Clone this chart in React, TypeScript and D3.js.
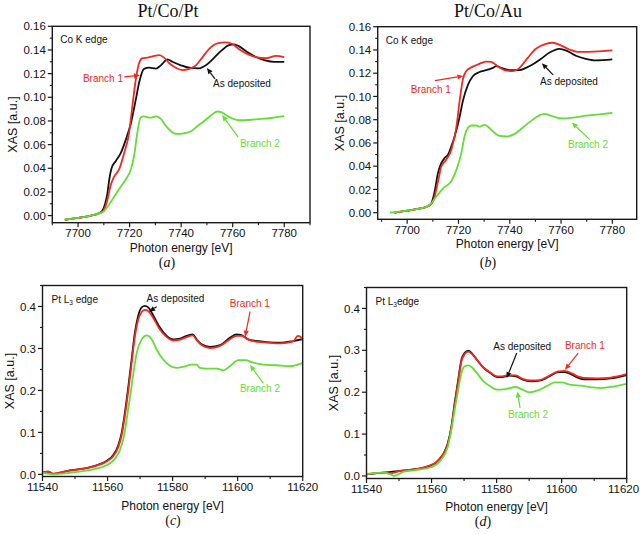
import React from 'react';
import * as d3 from 'd3';

type Pt = [number, number];

// ---------- Data ----------
// (a) Pt/Co/Pt, Co K edge
const asDepA: Pt[] = [
  [7695, -0.0035], [7700, -0.002], [7705, 0.0], [7708, 0.0018], [7709.4, 0.004], [7710.5, 0.01], [7711.4, 0.019],
  [7712, 0.029], [7713, 0.04], [7714.6, 0.046], [7716.6, 0.053], [7718.5, 0.064], [7720.5, 0.078], [7722.4, 0.098],
  [7723.7, 0.1125], [7725.6, 0.124], [7727.6, 0.125], [7730.2, 0.1242], [7732.1, 0.127], [7734.7, 0.132], [7736.6, 0.130],
  [7739.9, 0.127], [7743.1, 0.125], [7747, 0.1245], [7749.6, 0.127], [7752.2, 0.132], [7755.4, 0.139], [7758.6, 0.144],
  [7760.6, 0.1447], [7762.5, 0.143], [7765.8, 0.138], [7769, 0.134], [7772.9, 0.131], [7776.1, 0.130], [7780, 0.130],
];
const branch1A: Pt[] = [
  [7695, -0.0035], [7700, -0.002], [7705, 0.0], [7708, 0.0018], [7709.4, 0.003], [7710.5, 0.007], [7711.4, 0.0136],
  [7712.7, 0.026], [7714, 0.033], [7715.9, 0.039], [7717.9, 0.053], [7719.8, 0.07], [7721.1, 0.093], [7722.4, 0.115],
  [7723.7, 0.129], [7725, 0.133], [7726.9, 0.1335], [7728.9, 0.1345], [7731.5, 0.1357], [7733.4, 0.1335], [7735.3, 0.129],
  [7737.9, 0.125], [7740.5, 0.123], [7743.1, 0.124], [7745.7, 0.127], [7748.3, 0.134], [7750.9, 0.141], [7754.1, 0.1456],
  [7757.3, 0.1464], [7759.9, 0.145], [7762.5, 0.1407], [7765.8, 0.1365], [7769, 0.134], [7772.9, 0.133], [7776.8, 0.135],
  [7780, 0.134],
];
const branch2A: Pt[] = [
  [7694.6, -0.0034], [7700, -0.002], [7705, 0.0], [7708, 0.0017], [7710, 0.0037], [7713.3, 0.0136], [7716, 0.0226],
  [7718.5, 0.0305], [7720.5, 0.039], [7721.7, 0.05], [7723, 0.07], [7724.3, 0.083], [7725.5, 0.0838], [7728, 0.0828],
  [7730.3, 0.0838], [7732, 0.082], [7734, 0.076], [7736.5, 0.0705], [7738.5, 0.069], [7741, 0.0695], [7744, 0.0715],
  [7746.5, 0.076], [7749.6, 0.081], [7752, 0.0855], [7754.1, 0.088], [7755.5, 0.0875], [7757.3, 0.085], [7760, 0.082],
  [7762.5, 0.0806], [7766, 0.0808], [7770, 0.0815], [7775, 0.0825], [7780, 0.084],
];

// (b) Pt/Co/Au, Co K edge
const asDepB: Pt[] = [
  [7695, 0.0], [7700, 0.0017], [7703.6, 0.003], [7707.5, 0.005], [7709.4, 0.008], [7710.7, 0.018], [7712, 0.034],
  [7713.3, 0.0426], [7714.6, 0.047], [7715.9, 0.0498], [7717.2, 0.057], [7718.5, 0.0656], [7720.5, 0.083], [7721.7, 0.096],
  [7723.7, 0.11], [7725.6, 0.1174], [7728.2, 0.121], [7730.8, 0.1226], [7733.4, 0.1246], [7734.7, 0.126], [7736.6, 0.1246],
  [7739.9, 0.1226], [7743.8, 0.1226], [7746.3, 0.1246], [7748.9, 0.1275], [7752.2, 0.1324], [7755.4, 0.1376], [7759.3, 0.141],
  [7762.5, 0.139], [7765.8, 0.135], [7769.6, 0.1324], [7773.5, 0.131], [7780, 0.1318],
];
const branch1B: Pt[] = [
  [7695, 0.0], [7700, 0.0017], [7703.6, 0.003], [7707.5, 0.005], [7709.4, 0.0075], [7710.7, 0.0138], [7712, 0.0268],
  [7713.3, 0.0397], [7715.2, 0.0455], [7717.2, 0.054], [7719.2, 0.074], [7720.5, 0.097], [7721.7, 0.1145], [7723, 0.1217],
  [7725, 0.125], [7727.6, 0.1275], [7730.8, 0.13], [7732.7, 0.1298], [7735.3, 0.126], [7737.9, 0.1226], [7741.1, 0.1217],
  [7743.8, 0.1246], [7747, 0.1332], [7750.2, 0.141], [7754.1, 0.1453], [7756.7, 0.1462], [7759.9, 0.144], [7763.2, 0.1404],
  [7766.4, 0.1384], [7770.9, 0.1384], [7776.1, 0.139], [7780, 0.1396],
];
const branch2B: Pt[] = [
  [7693.3, 0.0], [7700, 0.0017], [7703.6, 0.003], [7707.5, 0.005], [7709.4, 0.008], [7711.4, 0.014], [7714, 0.021],
  [7717.2, 0.027], [7719.2, 0.037], [7721.1, 0.051], [7722.4, 0.066], [7723.7, 0.073], [7725, 0.075], [7726.9, 0.075],
  [7728.2, 0.074], [7730.2, 0.0755], [7731.5, 0.074], [7733.4, 0.07], [7736, 0.066], [7738.6, 0.0656], [7741.8, 0.0676],
  [7745, 0.073], [7748.3, 0.079], [7751.5, 0.0837], [7753.5, 0.085], [7756, 0.0835], [7759.3, 0.0814], [7761.9, 0.0812],
  [7764.5, 0.0817], [7769.6, 0.0835], [7774.8, 0.0846], [7780, 0.0858],
];

// (c) Pt/Co/Pt, Pt L3 edge
const asDepC: Pt[] = [
  [11540, 0.0056], [11541.7, 0.0064], [11543.3, 0.001], [11547.4, 0.008], [11552.5, 0.0136], [11556.6, 0.0216],
  [11559.7, 0.032], [11561.7, 0.0456], [11563.3, 0.0696], [11564.3, 0.0976], [11565.3, 0.1456], [11566.4, 0.21],
  [11567.4, 0.274], [11568.4, 0.3376], [11569.4, 0.3776], [11570.5, 0.398], [11571.5, 0.4016], [11572.5, 0.398],
  [11574.1, 0.378], [11576.1, 0.35], [11578.2, 0.33], [11580.2, 0.3216], [11582.3, 0.3236], [11584.3, 0.33],
  [11586.2, 0.3336], [11587.4, 0.3216], [11588.9, 0.31], [11591.5, 0.304], [11594.6, 0.308], [11597.6, 0.3256],
  [11599.7, 0.3336], [11601.2, 0.332], [11603.3, 0.3216], [11605.8, 0.318], [11608.9, 0.3152], [11613, 0.3136],
  [11617.1, 0.3176], [11620, 0.322],
];
const branch1C: Pt[] = [
  [11540, 0.006], [11541.7, 0.0068], [11543.3, 0.002], [11547.4, 0.008], [11552.5, 0.0136], [11556.6, 0.021],
  [11559.7, 0.031], [11561.7, 0.043], [11563.3, 0.065], [11564.3, 0.092], [11565.3, 0.138], [11566.4, 0.2],
  [11567.4, 0.265], [11568.4, 0.328], [11569.4, 0.368], [11570.5, 0.387], [11571.5, 0.392], [11572.5, 0.389],
  [11574.1, 0.372], [11576.1, 0.345], [11578.2, 0.327], [11580.2, 0.319], [11582.3, 0.321], [11584.3, 0.327],
  [11586.2, 0.331], [11587.4, 0.32], [11588.9, 0.308], [11591.5, 0.301], [11594.6, 0.306], [11597.6, 0.322],
  [11599.7, 0.33], [11601.2, 0.33], [11603.3, 0.321], [11605.8, 0.316], [11608.9, 0.314], [11613, 0.312],
  [11617.1, 0.317], [11618.5, 0.33], [11619.3, 0.328], [11620, 0.318],
];
const branch2C: Pt[] = [
  [11540, 0.004], [11543.3, 0.0], [11547.4, 0.003], [11552.5, 0.008], [11556.6, 0.0136], [11559.7, 0.0216],
  [11562.3, 0.0376], [11563.8, 0.0576], [11565, 0.0896], [11566, 0.1376], [11567.1, 0.1936], [11568.1, 0.2496],
  [11569.1, 0.2936], [11570.5, 0.3216], [11572, 0.331], [11573.6, 0.3216], [11575.1, 0.2976], [11577.1, 0.2736],
  [11579.2, 0.259], [11581.3, 0.2536], [11583.8, 0.2576], [11585.8, 0.2616], [11587.4, 0.2616], [11588.4, 0.2536],
  [11590.5, 0.252], [11593.5, 0.252], [11595.6, 0.248], [11597.6, 0.2576], [11600.2, 0.272], [11602.3, 0.272],
  [11604.8, 0.266], [11607.9, 0.2616], [11612, 0.26], [11616.1, 0.2576], [11620, 0.2656],
];

// (d) Pt/Co/Au, Pt L3 edge
const asDepD: Pt[] = [
  [11540, 0.004], [11545.2, 0.008], [11550.4, 0.012], [11555.6, 0.0168], [11558.7, 0.022], [11561.4, 0.032],
  [11563.4, 0.05], [11565, 0.078], [11566.1, 0.118], [11567.1, 0.1737], [11568.2, 0.23], [11569.2, 0.278],
  [11570.2, 0.294], [11571.3, 0.2994], [11572.3, 0.294], [11573.9, 0.278], [11576, 0.258], [11578.1, 0.246],
  [11580.1, 0.2363], [11581.7, 0.2363], [11583.8, 0.2395], [11585.9, 0.238], [11588, 0.23], [11590.6, 0.226],
  [11593.2, 0.2275], [11596.3, 0.238], [11599, 0.248], [11601, 0.248], [11603.1, 0.242], [11605.2, 0.234],
  [11606.8, 0.231], [11611, 0.231], [11615.1, 0.233], [11620, 0.241],
];
const branch1D: Pt[] = [
  [11540, 0.004], [11545.2, 0.008], [11547, 0.006], [11550.4, 0.012], [11555.6, 0.017], [11558.7, 0.023],
  [11561.4, 0.033], [11563.4, 0.05], [11565, 0.076], [11566.1, 0.115], [11567.1, 0.17], [11568.2, 0.226],
  [11569.2, 0.274], [11570.2, 0.291], [11571.3, 0.297], [11572.3, 0.292], [11573.9, 0.278], [11576, 0.259],
  [11578.1, 0.247], [11580.1, 0.238], [11581.7, 0.238], [11583.8, 0.241], [11585.9, 0.24], [11588, 0.232],
  [11590.6, 0.228], [11593.2, 0.229], [11596.3, 0.24], [11599, 0.25], [11601, 0.251], [11603.1, 0.245],
  [11605.2, 0.237], [11606.8, 0.234], [11611, 0.233], [11615.1, 0.235], [11620, 0.243],
];
const branch2D: Pt[] = [
  [11540, 0.005], [11545.2, 0.008], [11547.5, 0.004], [11548.4, 0.0], [11551.5, 0.0104], [11555.6, 0.0144],
  [11559.8, 0.0208], [11562.9, 0.038], [11565, 0.07], [11566.1, 0.11], [11567.1, 0.158], [11568.2, 0.206],
  [11569.2, 0.246], [11570.2, 0.262], [11571.3, 0.264], [11572.3, 0.26], [11573.9, 0.246], [11576, 0.226],
  [11578.1, 0.214], [11580.1, 0.206], [11582.7, 0.2076], [11585.9, 0.2124], [11588, 0.206], [11590, 0.1996],
  [11592.7, 0.2044], [11595.3, 0.214], [11597.9, 0.2236], [11600, 0.2236], [11602.6, 0.218], [11605.8, 0.2155],
  [11608.9, 0.2124], [11612, 0.21], [11616.2, 0.214], [11620, 0.22],
];

// Tick values
const coKXTicks = [7700, 7720, 7740, 7760, 7780];
const coKYTicks = [0, 0.02, 0.04, 0.06, 0.08, 0.1, 0.12, 0.14, 0.16];
const ptXTicks = [11540, 11560, 11580, 11600, 11620];
const ptYTicks = [0, 0.1, 0.2, 0.3, 0.4];

const seriesNames = ['As deposited', 'Branch 1', 'Branch 2'];

const RED = '#ee2a22';
const GREEN = '#66dc36';
const BLACK = '#111111';
const SANS = '"Liberation Sans", Arial, sans-serif';
const SERIF = '"Liberation Serif", "Times New Roman", serif';

interface Ann { label: string; color: string; text: Pt; from: Pt; to: Pt }

interface Panel {
  left: number; right: number; top: number; bottom: number;
  xDomain: [number, number]; yDomain: [number, number];
  xTicks: number[]; yTicks: number[]; xMinorStep: number; yMinorStep: number;
  yFmt: (v: number) => string;
  edge: 'co' | 'pt' | 'pt2';
  data: Pt[][];
  anns: Ann[];
  caption: string; captionX: number; captionY: number;
  xTitleDy: number; yTitleX: number;
}

const panels: Panel[] = [
  {
    left: 52.3, right: 310, top: 26.3, bottom: 222.7,
    xDomain: [7690, 7790], yDomain: [-0.006, 0.16],
    xTicks: coKXTicks, yTicks: coKYTicks, xMinorStep: 10, yMinorStep: 0.01,
    yFmt: (v) => v.toFixed(2), edge: 'co',
    data: [asDepA, branch1A, branch2A],
    anns: [
      { label: 'Branch 1', color: RED, text: [7701.9, 0.1129], from: [7717.9, 0.1172], to: [7724.0, 0.1186] },
      { label: 'As deposited', color: BLACK, text: [7752.4, 0.1087], from: [7753.1, 0.1155], to: [7750.0, 0.1248] },
      { label: 'Branch 2', color: GREEN, text: [7762.8, 0.058], from: [7762.1, 0.0664], to: [7755.9, 0.085] },
    ],
    caption: 'a', captionX: 167, captionY: 267, xTitleDy: 29, yTitleX: 12,
  },
  {
    left: 377.7, right: 636.7, top: 26.7, bottom: 219.3,
    xDomain: [7688.5, 7789.5], yDomain: [-0.0057, 0.16],
    xTicks: coKXTicks, yTicks: coKYTicks, xMinorStep: 10, yMinorStep: 0.01,
    yFmt: (v) => v.toFixed(2), edge: 'co',
    data: [asDepB, branch1B, branch2B],
    anns: [
      { label: 'Branch 1', color: RED, text: [7701.4, 0.103], from: [7710.8, 0.1136], to: [7721.9, 0.1176] },
      { label: 'As deposited', color: BLACK, text: [7751.8, 0.1099], from: [7756.9, 0.1185], to: [7752.5, 0.1286] },
      { label: 'Branch 2', color: GREEN, text: [7762.7, 0.0557], from: [7771.3, 0.0626], to: [7764.2, 0.0775] },
    ],
    caption: 'b', captionX: 488, captionY: 267, xTitleDy: 29, yTitleX: 339,
  },
  {
    left: 42.5, right: 302.7, top: 285.5, bottom: 476.5,
    xDomain: [11540, 11620], yDomain: [-0.005, 0.45],
    xTicks: ptXTicks, yTicks: ptYTicks, xMinorStep: 10, yMinorStep: 0.05,
    yFmt: (v) => v.toFixed(1), edge: 'pt',
    data: [asDepC, branch1C, branch2C],
    anns: [
      { label: 'As deposited', color: BLACK, text: [11572.0, 0.41], from: [11575.1, 0.3995], to: [11572.8, 0.3876] },
      { label: 'Branch 1', color: RED, text: [11597.6, 0.398], from: [11603.8, 0.3876], to: [11602.3, 0.328] },
      { label: 'Branch 2', color: GREEN, text: [11600.7, 0.197], from: [11607.9, 0.217], to: [11603.8, 0.2606] },
    ],
    caption: 'c', captionX: 173, captionY: 525, xTitleDy: 33, yTitleX: 9,
  },
  {
    left: 366.5, right: 626.7, top: 287.5, bottom: 478.5,
    xDomain: [11540, 11620], yDomain: [-0.006, 0.45],
    xTicks: ptXTicks, yTicks: ptYTicks, xMinorStep: 10, yMinorStep: 0.05,
    yFmt: (v) => v.toFixed(1), edge: 'pt2',
    data: [asDepD, branch1D, branch2D],
    anns: [
      { label: 'As deposited', color: BLACK, text: [11579.0, 0.3014], from: [11586.2, 0.2935], to: [11583.1, 0.2337] },
      { label: 'Branch 1', color: RED, text: [11601.0, 0.3038], from: [11605.1, 0.2935], to: [11601.0, 0.2536] },
      { label: 'Branch 2', color: GREEN, text: [11583.5, 0.1395], from: [11587.2, 0.1627], to: [11586.4, 0.2017] },
    ],
    caption: 'd', captionX: 483, captionY: 526, xTitleDy: 32, yTitleX: 333,
  },
];

const seriesColors = [BLACK, RED, GREEN];
const TICK_FONT = 11.5;

function PanelView({ p }: { p: Panel }) {
  const x = d3.scaleLinear().domain(p.xDomain).range([p.left, p.right]);
  const y = d3.scaleLinear().domain(p.yDomain).range([p.bottom, p.top]);
  const line = d3.line<Pt>().x((d) => x(d[0])).y((d) => y(d[1])).curve(d3.curveMonotoneX);

  const xMinor: number[] = [];
  for (let v = Math.ceil(p.xDomain[0] / p.xMinorStep) * p.xMinorStep; v <= p.xDomain[1] + 1e-9; v += p.xMinorStep) {
    if (!p.xTicks.some((t) => Math.abs(t - v) < 1e-6)) xMinor.push(v);
  }
  const yMinor: number[] = [];
  for (let i = Math.ceil(p.yDomain[0] / p.yMinorStep); i * p.yMinorStep <= p.yDomain[1] + 1e-9; i++) {
    const v = i * p.yMinorStep;
    if (!p.yTicks.some((t) => Math.abs(t - v) < 1e-6)) yMinor.push(v);
  }

  const cx = (p.left + p.right) / 2;
  const cy = (p.top + p.bottom) / 2;

  return (
    <g>
      {/* curves */}
      {p.data.map((s, i) => (
        <path key={seriesNames[i]} d={line(s) || ''} fill="none" stroke={seriesColors[i]} strokeWidth={1.8} strokeLinejoin="round" />
      ))}
      {/* frame */}
      <rect x={p.left} y={p.top} width={p.right - p.left} height={p.bottom - p.top} fill="none" stroke="#1a1a1a" strokeWidth={1.4} />
      {/* x ticks */}
      {p.xTicks.map((t) => {
        const half = (String(t).length * 0.556 * TICK_FONT) / 2;
        const lx = Math.min(x(t), 639.5 - half);
        return (
          <g key={'xt' + t}>
            <line x1={x(t)} x2={x(t)} y1={p.bottom} y2={p.bottom + 4.5} stroke="#1a1a1a" strokeWidth={1.2} />
            <text x={lx} y={p.bottom + 14.5} textAnchor="middle" fontSize={TICK_FONT} fontFamily={SANS} fill="#111">{t}</text>
          </g>
        );
      })}
      {xMinor.map((t) => (
        <line key={'xm' + t} x1={x(t)} x2={x(t)} y1={p.bottom} y2={p.bottom + 2.5} stroke="#1a1a1a" strokeWidth={1.1} />
      ))}
      {/* y ticks */}
      {p.yTicks.map((t) => (
        <g key={'yt' + t}>
          <line x1={p.left - 4.5} x2={p.left} y1={y(t)} y2={y(t)} stroke="#1a1a1a" strokeWidth={1.2} />
          <text x={p.left - 6.5} y={y(t)} dy="0.36em" textAnchor="end" fontSize={TICK_FONT} fontFamily={SANS} fill="#111">{p.yFmt(t)}</text>
        </g>
      ))}
      {yMinor.map((t) => (
        <line key={'ym' + t} x1={p.left - 2.5} x2={p.left} y1={y(t)} y2={y(t)} stroke="#1a1a1a" strokeWidth={1.1} />
      ))}
      {/* axis titles */}
      <text x={cx} y={p.bottom + p.xTitleDy} textAnchor="middle" fontSize={12} fontFamily={SANS} fill="#111">Photon energy [eV]</text>
      <text transform={`translate(${p.yTitleX},${cy}) rotate(-90)`} dy="0.36em" textAnchor="middle" fontSize={12.5} fontFamily={SANS} fill="#111">XAS [a.u.]</text>
      {/* edge label */}
      {p.edge === 'co' ? (
        <text x={p.left + 8} y={p.top + 17} fontSize={10} fontFamily={SANS} fill="#111">Co K edge</text>
      ) : (
        <text x={p.left + 9} y={p.top + 17} fontSize={10} fontFamily={SANS} fill="#111">
          <tspan>Pt L</tspan>
          <tspan fontSize={6.5} dy={2.5}>3</tspan>
          <tspan dy={-2.5}>{p.edge === 'pt' ? ' edge' : 'edge'}</tspan>
        </text>
      )}
      {/* annotations */}
      {p.anns.map((a) => {
        const x1 = x(a.from[0]), y1 = y(a.from[1]);
        const x2 = x(a.to[0]), y2 = y(a.to[1]);
        const ang = Math.atan2(y2 - y1, x2 - x1);
        const L = 6, W = 2.6;
        const bx = x2 - L * Math.cos(ang), by = y2 - L * Math.sin(ang);
        const pts = [
          [x2, y2],
          [bx + W * Math.sin(ang), by - W * Math.cos(ang)],
          [bx - W * Math.sin(ang), by + W * Math.cos(ang)],
        ].map((q) => q.join(',')).join(' ');
        return (
          <g key={a.label}>
            <text x={x(a.text[0])} y={y(a.text[1])} fontSize={10} fontFamily={SANS} fill={a.color}>{a.label}</text>
            <line x1={x1} y1={y1} x2={bx} y2={by} stroke={a.color} strokeWidth={1.2} />
            <polygon points={pts} fill={a.color} />
          </g>
        );
      })}
      {/* caption */}
      <text x={p.captionX} y={p.captionY} textAnchor="middle" fontSize={14} fontFamily={SERIF} fill="#111">
        <tspan>(</tspan><tspan fontStyle="italic">{p.caption}</tspan><tspan>)</tspan>
      </text>
    </g>
  );
}

export default function App() {
  return (
    <svg width={640} height={534} viewBox="0 0 640 534" style={{ position: 'absolute', left: 0, top: 0, display: 'block', background: '#fff' }}>
      <rect x={0} y={0} width={640} height={534} fill="#fff" />
      <text x={168} y={17} textAnchor="middle" fontSize={18} fontFamily={SERIF} fill="#111">Pt/Co/Pt</text>
      <text x={488} y={17} textAnchor="middle" fontSize={18} fontFamily={SERIF} fill="#111">Pt/Co/Au</text>
      {panels.map((p) => (
        <PanelView key={p.caption} p={p} />
      ))}
    </svg>
  );
}
